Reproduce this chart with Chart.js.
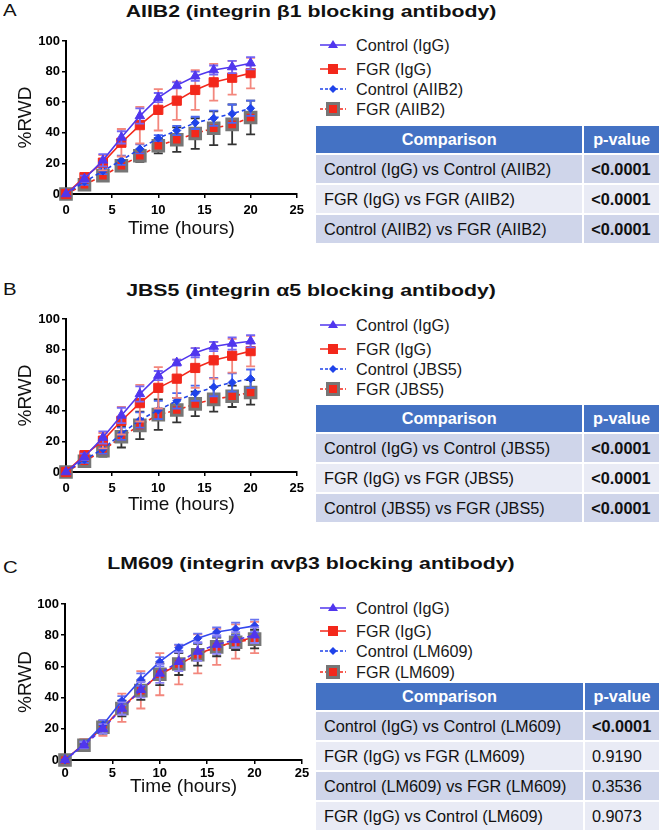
<!DOCTYPE html>
<html lang="en">
<head>
<meta charset="UTF-8">
<meta name="viewport" content="width=device-width, initial-scale=1.0">
<title>Wound closure with integrin blocking antibodies</title>
<script src="https://cdn.jsdelivr.net/npm/chart.js@4"></script>
<style>
  body { margin: 0; background: #fff; font-family: 'Liberation Sans', Arial, sans-serif; }
  .page { position: relative; width: 661px; height: 832px; overflow: hidden; }
  .letter { position: absolute; left: 3px; font-size: 17px; line-height: 17px; color: #111;
            transform: scaleX(1.2); transform-origin: 0 0; }
  .title { position: absolute; left: 0; width: 622px; text-align: center; font-size: 17px; line-height: 17px;
           font-weight: bold; color: #111; transform: scaleX(1.25); transform-origin: 311px 0; white-space: nowrap; }
  .plot { position: absolute; left: 0; }
  .lg { position: absolute; left: 318px; height: 18px; line-height: 18px; font-size: 16.2px; color: #1a1a1a; white-space: nowrap; }
  .lg svg { position: absolute; left: 0; top: 0; }
  .lg span { position: absolute; left: 38px; top: 0; }
  table.cmp { position: absolute; left: 314px; border-collapse: separate; border-spacing: 2px; font-size: 16.3px; color: #111; }
  table.cmp th { background: #4472c4; color: #fff; height: 27px; padding: 0; font-weight: bold; text-align: center; }
  table.cmp td { height: 28px; padding: 0 0 0 8px; text-align: left; white-space: nowrap; }
  table.cmp tr.d td { background: #cfd5ea; }
  table.cmp tr.l td { background: #e9ebf5; }
  table.cmp td.p { padding-left: 7px; }
  table.cmp td.b { font-weight: bold; }
</style>
</head>
<body>
<div class="page" id="page">
  <div class="letter" style="top:2px">A</div>
  <div class="title" style="top:3px">AIIB2 (integrin β1 blocking antibody)</div>
  <div class="plot" id="wrapA"><canvas id="chartA"></canvas></div>

  <div class="letter" style="top:281px">B</div>
  <div class="title" style="top:282px">JBS5 (integrin α5 blocking antibody)</div>
  <div class="plot" id="wrapB"><canvas id="chartB"></canvas></div>

  <div class="letter" style="top:559px">C</div>
  <div class="title" style="top:555px">LM609 (integrin αvβ3 blocking antibody)</div>
  <div class="plot" id="wrapC"><canvas id="chartC"></canvas></div>
</div>

<script>
  // eixos (comuns aos tres graficos)
  const hours = [0, 2, 4, 6, 8, 10, 12, 14, 16, 18, 20];
  const xTicks = [0, 5, 10, 15, 20, 25];
  const yTicks = [0, 20, 40, 60, 80, 100];

  // A - AIIB2
  const namesA = ['Control (IgG)', 'FGR (IgG)', 'Control (AIIB2)', 'FGR (AIIB2)'];
  const ctrlIgG_A = [0, 10, 22, 37, 51, 63, 71, 77, 81, 83, 85.5];
  const ctrlIgG_A_err = [0, 2, 4, 4, 5, 3, 2, 3, 3, 4, 4];
  const fgrIgG_A = [0, 11, 20.5, 33.5, 45, 55, 61, 68, 73, 76, 79];
  const fgrIgG_A_err = [0, 2, 5, 9, 12, 13.5, 12.5, 13, 12, 11, 10];
  const ctrlAb_A = [0, 8, 15, 22, 29.5, 36.5, 41.5, 46.5, 49.5, 52.5, 56];
  const ctrlAb_A_err = [0, 2, 2, 3, 3, 2, 3, 4, 5, 6, 5];
  const fgrAb_A = [0, 6, 12, 18.5, 25, 31.5, 35.5, 39.5, 43, 45.5, 50];
  const fgrAb_A_err = [0, 2, 3, 3, 4, 5, 8, 10, 11, 13, 11];
  const compA = ['Control (IgG) vs Control (AIIB2)', 'FGR (IgG) vs FGR (AIIB2)', 'Control (AIIB2) vs FGR (AIIB2)'];
  const pA = ['<0.0001', '<0.0001', '<0.0001'];

  // B - JBS5
  const namesB = ['Control (IgG)', 'FGR (IgG)', 'Control (JBS5)', 'FGR (JBS5)'];
  const ctrlIgG_B = [0, 10, 22.5, 37, 51, 63, 71.5, 78, 82, 84, 85.5];
  const ctrlIgG_B_err = [0, 2, 4, 5, 5, 3, 2, 3, 3, 4, 4];
  const fgrIgG_B = [0, 11, 20.5, 33.5, 45, 55, 61, 68, 73, 76, 79];
  const fgrIgG_B_err = [0, 2, 5, 9, 12, 13.5, 12.5, 13, 12, 11, 10];
  const ctrlAb_B = [0, 8, 15, 25, 34, 40.5, 46.5, 51.5, 55.5, 58.5, 61];
  const ctrlAb_B_err = [0, 2, 3, 4, 5, 6, 5, 5, 6, 6, 6];
  const fgrAb_B = [0, 7, 14, 23, 30.5, 37.5, 40.5, 44.5, 47.5, 49.5, 52];
  const fgrAb_B_err = [0, 2, 4, 7, 9, 10, 8, 8, 8, 7, 8];
  const compB = ['Control (IgG) vs Control (JBS5)', 'FGR (IgG) vs FGR (JBS5)', 'Control (JBS5) vs FGR (JBS5)'];
  const pB = ['<0.0001', '<0.0001', '<0.0001'];

  // C - LM609
  const namesC = ['Control (IgG)', 'FGR (IgG)', 'Control (LM609)', 'FGR (LM609)'];
  const ctrlIgG_C = [0, 10, 22.5, 38, 51.5, 63, 72, 78, 82, 84, 86];
  const ctrlIgG_C_err = [0, 2, 3, 3, 4, 3, 2, 3, 3, 4, 4];
  const fgrIgG_C = [0, 10.5, 20.5, 33.5, 45, 55, 61, 68, 72.5, 76, 78.5];
  const fgrIgG_C_err = [0, 2, 5, 9, 12, 13.5, 12.5, 12.5, 11.5, 11, 10];
  const ctrlAb_C = [0, 9.5, 20, 33, 45, 55.5, 63, 69.5, 74, 77, 80];
  const ctrlAb_C_err = [0, 2, 3, 4, 5, 6, 6, 6, 6, 5, 5];
  const fgrAb_C = [0, 9.5, 21, 33, 44.5, 55, 61.5, 67.5, 72.5, 75.5, 77.5];
  const fgrAb_C_err = [0, 2, 4, 5, 6, 7, 7, 7, 6, 5, 6];
  const compC = ['Control (IgG) vs Control (LM609)', 'FGR (IgG) vs FGR (LM609)', 'Control (LM609) vs FGR (LM609)', 'FGR (IgG) vs Control (LM609)'];
  const pC = ['<0.0001', '0.9190', '0.3536', '0.9073'];

  const FONT = "'Liberation Sans', Arial, sans-serif";
  const PURPLE = '#5036ee';
  const RED = '#f3281b';
  const BLUE = '#1f43ea';
  const GREY = '#767676';

  // estilos de linha/marcador
  const STY = {
    tri:  { line: PURPLE, fill: PURPLE, border: PURPLE, point: 'triangle', r: 5.5, bw: 1, dash: [], err: '#7466f3' },
    sq:   { line: RED, fill: RED, border: RED, point: 'rect', r: 6.5, bw: 1, dash: [], err: '#f3877d' },
    dia:  { line: BLUE, fill: BLUE, border: BLUE, point: 'rectRot', r: 4, bw: 1, dash: [4, 3], err: '#4c68f0' },
    gsq:  { line: RED, fill: RED, border: GREY, point: 'rect', r: 7.5, bw: 3, dash: [4, 3], err: '#333333' },
    // painel C: a serie de cima tem losangos e linha cheia, a tracejada tem triangulos
    diaSolid: { line: '#3447ee', fill: '#2a3fe8', border: '#2a3fe8', point: 'rectRot', r: 4, bw: 1, dash: [], err: '#6a74f0' },
    triDash:  { line: PURPLE, fill: PURPLE, border: PURPLE, point: 'triangle', r: 5.5, bw: 1, dash: [4, 3], err: '#8a80f3' }
  };

  // barras de erro (media +/- SD) desenhadas antes de cada serie
  const errorBars = {
    id: 'errorBars',
    beforeDatasetDraw(chart, args) {
      const ds = chart.data.datasets[args.index];
      if (!ds.errors) return;
      const xs = chart.scales.x, ys = chart.scales.y, ctx = chart.ctx;
      ctx.save();
      ctx.strokeStyle = ds.errColor;
      ctx.lineWidth = 1.8;
      ds.data.forEach((p, i) => {
        const e = ds.errors[i];
        if (!e) return;
        const px = xs.getPixelForValue(p.x);
        const top = ys.getPixelForValue(p.y + e);
        const bot = ys.getPixelForValue(p.y - e);
        ctx.beginPath();
        ctx.moveTo(px, top); ctx.lineTo(px, bot);
        ctx.moveTo(px - 4.5, top); ctx.lineTo(px + 4.5, top);
        ctx.moveTo(px - 4.5, bot); ctx.lineTo(px + 4.5, bot);
        ctx.stroke();
      });
      ctx.restore();
    }
  };

  function serie(label, values, errors, st) {
    return {
      label: label,
      data: hours.map((h, i) => ({ x: h, y: values[i] })),
      errors: errors,
      errColor: st.err,
      borderColor: st.line,
      backgroundColor: st.fill,
      borderWidth: 1.6,
      borderDash: st.dash,
      pointStyle: st.point,
      pointRadius: st.r,
      pointBackgroundColor: st.fill,
      pointBorderColor: st.border,
      pointBorderWidth: st.bw,
      tension: 0,
      clip: false
    };
  }

  function makeChart(id, wrapId, geo, datasets) {
    const top = geo.t - 12;
    const bottom = geo.xTitleY + 14;
    document.getElementById(wrapId).style.top = top + 'px';
    const cv = document.getElementById(id);
    cv.width = geo.r + 12;
    cv.height = bottom - top;

    return new Chart(cv, {
      type: 'line',
      data: { datasets: datasets },
      options: {
        responsive: false,
        animation: false,
        layout: { padding: { top: 12, right: 12, left: 0, bottom: 0 } },
        plugins: { legend: { display: false }, tooltip: { enabled: false } },
        scales: {
          x: {
            type: 'linear',
            min: xTicks[0], max: xTicks[xTicks.length - 1],
            afterFit: s => { s.height = bottom - geo.b; },
            border: { color: '#000', width: 2 },
            grid: { drawOnChartArea: false, drawTicks: true, tickLength: 4, color: '#000', lineWidth: 1.5 },
            ticks: { stepSize: xTicks[1] - xTicks[0], color: '#000', padding: geo.xPad, maxRotation: 0,
                     font: { family: FONT, size: 13, weight: 'bold' } },
            title: { display: true, text: 'Time (hours)', color: '#111',
                     font: { family: FONT, size: 19 },
                     padding: { top: 0, bottom: (bottom - geo.xTitleY) - 11.4 } }
          },
          y: {
            min: yTicks[0], max: yTicks[yTicks.length - 1],
            afterFit: s => { s.width = geo.l; },
            border: { color: '#000', width: 2 },
            grid: { drawOnChartArea: false, drawTicks: true, tickLength: 4, color: '#000', lineWidth: 1.5 },
            ticks: { stepSize: yTicks[1] - yTicks[0], color: '#000', padding: 2,
                     font: { family: FONT, size: 13, weight: 'bold' } },
            title: { display: true, text: '%RWD', color: '#111',
                     font: { family: FONT, size: 19 },
                     padding: { top: geo.yTitleX - 11.4, bottom: 0 } }
          }
        }
      },
      plugins: [errorBars]
    });
  }

  // legenda e tabela ao lado de cada grafico
  const SAMPLE = {
    tri: `<line x1="2" y1="9" x2="28" y2="9" stroke="${PURPLE}" stroke-width="1.5"/><polygon points="15,4 20,12 10,12" fill="${PURPLE}"/>`,
    sq: `<line x1="2" y1="9" x2="28" y2="9" stroke="${RED}" stroke-width="1.5"/><rect x="10" y="4" width="10" height="10" fill="${RED}"/>`,
    dia: `<line x1="2" y1="9" x2="28" y2="9" stroke="${BLUE}" stroke-width="1.5" stroke-dasharray="3 2"/><polygon points="15,5 19,9 15,13 11,9" fill="${BLUE}"/>`,
    gsq: `<line x1="2" y1="9" x2="28" y2="9" stroke="${RED}" stroke-width="1.5" stroke-dasharray="3 2"/><rect x="9.5" y="3.5" width="11" height="11" fill="${RED}" stroke="${GREY}" stroke-width="3"/>`
  };

  function makeLegend(names, rowsY) {
    const page = document.getElementById('page');
    const kinds = ['tri', 'sq', 'dia', 'gsq'];
    names.forEach((n, i) => {
      const d = document.createElement('div');
      d.className = 'lg';
      d.style.top = (rowsY[i] - 9) + 'px';
      d.innerHTML = `<svg width="30" height="18">${SAMPLE[kinds[i]]}</svg><span>${n}</span>`;
      page.appendChild(d);
    });
  }

  function makeTable(comp, pvals, top) {
    const t = document.createElement('table');
    t.className = 'cmp';
    t.style.top = top + 'px';
    let html = '<tr><th style="width:271px">Comparison</th><th style="width:76px">p-value</th></tr>';
    comp.forEach((c, i) => {
      const bold = pvals[i].startsWith('<') ? ' b' : '';
      html += `<tr class="${i % 2 ? 'l' : 'd'}"><td style="width:255px">${c}</td><td class="p${bold}" style="width:69px">${pvals[i].replace('<', '&lt;')}</td></tr>`;
    });
    t.innerHTML = html;
    document.getElementById('page').appendChild(t);
  }

  makeChart('chartA', 'wrapA', { l: 66, r: 297, t: 41, b: 194, yTitleX: 26, xTitleY: 229, xPad: 5 }, [
    serie(namesA[0], ctrlIgG_A, ctrlIgG_A_err, STY.tri),
    serie(namesA[1], fgrIgG_A, fgrIgG_A_err, STY.sq),
    serie(namesA[2], ctrlAb_A, ctrlAb_A_err, STY.dia),
    serie(namesA[3], fgrAb_A, fgrAb_A_err, STY.gsq)
  ]);
  makeChart('chartB', 'wrapB', { l: 66, r: 297, t: 319, b: 472, yTitleX: 26, xTitleY: 505, xPad: 5 }, [
    serie(namesB[0], ctrlIgG_B, ctrlIgG_B_err, STY.tri),
    serie(namesB[1], fgrIgG_B, fgrIgG_B_err, STY.sq),
    serie(namesB[2], ctrlAb_B, ctrlAb_B_err, STY.dia),
    serie(namesB[3], fgrAb_B, fgrAb_B_err, STY.gsq)
  ]);
  makeChart('chartC', 'wrapC', { l: 65, r: 302, t: 604, b: 760, yTitleX: 26, xTitleY: 787, xPad: 2 }, [
    serie(namesC[2], ctrlAb_C, ctrlAb_C_err, STY.triDash),
    serie(namesC[0], ctrlIgG_C, ctrlIgG_C_err, STY.diaSolid),
    serie(namesC[3], fgrAb_C, fgrAb_C_err, STY.gsq),
    serie(namesC[1], fgrIgG_C, fgrIgG_C_err, STY.sq)
  ]);

  makeLegend(namesA, [45, 69, 89, 109]);
  makeLegend(namesB, [325, 349, 369, 389]);
  makeLegend(namesC, [608, 631, 651, 672]);

  makeTable(compA, pA, 124);
  makeTable(compB, pB, 403);
  makeTable(compC, pC, 681);
</script>
</body>
</html>
